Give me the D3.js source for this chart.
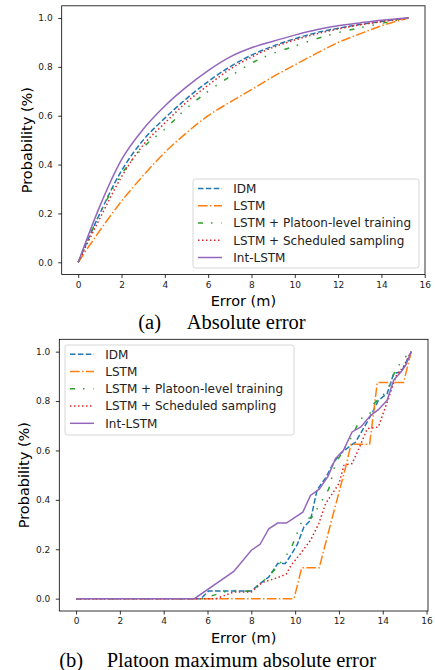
<!DOCTYPE html>
<html>
<head>
<meta charset="utf-8">
<script src="https://cdn.jsdelivr.net/npm/d3@7"></script>
<style>
  body { margin: 0; background: #fff; }
  svg { display: block; }
</style>
</head>
<body>
<div id="chart"></div>
<script>
// series names and tick labels
const seriesNames = ['IDM', 'LSTM', 'LSTM + Platoon-level training', 'LSTM + Scheduled sampling', 'Int-LSTM'];
const xTicks = [0, 2, 4, 6, 8, 10, 12, 14, 16];
const yTicks = [0, 0.2, 0.4, 0.6, 0.8, 1.0];

// (a) absolute error CDF
const absX = [0, 1, 2, 3, 4, 5, 6, 7, 8, 9, 10, 11, 12, 13, 14, 15.25];
const absIDM = [0, 0.2, 0.375, 0.5, 0.59, 0.67, 0.74, 0.8, 0.848, 0.885, 0.915, 0.94, 0.958, 0.973, 0.986, 1];
const absLSTM = [0, 0.13, 0.25, 0.355, 0.45, 0.53, 0.6, 0.655, 0.707, 0.76, 0.808, 0.855, 0.9, 0.935, 0.968, 1];
const absPlatoon = [0, 0.2, 0.36, 0.47, 0.545, 0.63, 0.7, 0.76, 0.815, 0.855, 0.885, 0.915, 0.94, 0.96, 0.978, 1];
const absSched = [0, 0.18, 0.35, 0.48, 0.57, 0.655, 0.725, 0.79, 0.84, 0.88, 0.91, 0.935, 0.955, 0.972, 0.985, 1];
const absInt = [0, 0.23, 0.42, 0.545, 0.64, 0.718, 0.785, 0.84, 0.878, 0.905, 0.93, 0.952, 0.968, 0.98, 0.991, 1];

// (b) platoon maximum absolute error CDF
const maxIDMX = [0, 5.7, 6.05, 8.0, 8.4, 8.8, 9.2, 9.55, 9.8, 10.1, 10.4, 10.7, 11.0, 11.4, 11.77, 12.07, 12.45, 12.76, 13.06, 13.5, 13.8, 14.2, 14.5, 14.85, 15.3];
const maxIDMY = [0, 0, 0.031, 0.031, 0.061, 0.088, 0.142, 0.142, 0.175, 0.22, 0.29, 0.317, 0.44, 0.49, 0.553, 0.587, 0.614, 0.634, 0.68, 0.749, 0.803, 0.83, 0.912, 0.918, 1];
const maxLSTMX = [0, 9.95, 10.3, 11.1, 11.7, 12.3, 12.55, 13.4, 13.75, 14.95, 15.3];
const maxLSTMY = [0, 0, 0.125, 0.125, 0.33, 0.53, 0.625, 0.625, 0.875, 0.875, 1];
const maxPlatoonX = [0, 5.8, 6.5, 7.0, 8.0, 8.4, 8.8, 9.2, 9.5, 9.8, 10.32, 10.77, 11.23, 11.54, 11.84, 12.2, 12.6, 12.99, 13.38, 13.6, 14.2, 14.6, 15.1, 15.3];
const maxPlatoonY = [0, 0, 0.02, 0.034, 0.03, 0.061, 0.09, 0.13, 0.165, 0.2, 0.317, 0.33, 0.398, 0.445, 0.547, 0.6, 0.66, 0.729, 0.742, 0.79, 0.84, 0.93, 0.985, 1];
const maxSchedX = [0, 6.4, 7.2, 8.0, 8.5, 9.2, 9.6, 9.8, 10.24, 10.7, 11.08, 11.39, 11.7, 12.0, 12.23, 12.6, 12.91, 13.29, 13.8, 14.3, 14.6, 14.95, 15.3];
const maxSchedY = [0, 0, 0.027, 0.027, 0.065, 0.085, 0.1, 0.133, 0.182, 0.236, 0.304, 0.385, 0.425, 0.466, 0.54, 0.547, 0.607, 0.688, 0.695, 0.82, 0.9, 0.94, 1];
const maxIntX = [0, 5.4, 7.2, 8.0, 8.4, 8.8, 9.2, 9.6, 10.35, 10.7, 11.1, 11.5, 11.84, 12.2, 12.6, 13.0, 13.45, 13.8, 14.2, 14.5, 14.85, 15.05, 15.3];
const maxIntY = [0, 0, 0.11, 0.196, 0.22, 0.283, 0.306, 0.306, 0.35, 0.418, 0.443, 0.495, 0.567, 0.6, 0.675, 0.695, 0.742, 0.765, 0.803, 0.885, 0.92, 0.945, 1];

// line styles (matplotlib tab10)
const styles = [
  { color: '#1f77b4', dash: '5.5,2.4' },
  { color: '#ff7f0e', dash: '9.6,2.4,1.5,2.4' },
  { color: '#2ca02c', dash: '5,8,1.5,9,1.5,9' },
  { color: '#d62728', dash: '1.5,2.5' },
  { color: '#9467bd', dash: null }
];

const svg = d3.select('#chart').append('svg')
  .attr('width', 435)
  .attr('height', 670);

function zip(xs, ys) {
  return xs.map((x, i) => [x, ys[i]]);
}

function drawPanel(cfg) {
  const x = d3.scaleLinear().domain(cfg.xDomain).range([cfg.left, cfg.right]);
  const y = d3.scaleLinear().domain([-0.05, 1.05]).range([cfg.bottom, cfg.top]);
  const g = svg.append('g');

  const line = d3.line()
    .curve(cfg.curve)
    .x(d => x(d[0]))
    .y(d => y(d[1]));

  cfg.series.forEach((s, i) => {
    g.append('path')
      .datum(s)
      .attr('fill', 'none')
      .attr('stroke', styles[i].color)
      .attr('stroke-width', 1.5)
      .attr('stroke-dasharray', styles[i].dash)
      .attr('d', line);
  });

  // axes
  const xAxis = g.append('g')
    .attr('transform', 'translate(0,' + cfg.bottom + ')')
    .call(d3.axisBottom(x).tickValues(xTicks).tickSize(3.5).tickPadding(3.5));
  const yAxis = g.append('g')
    .attr('transform', 'translate(' + cfg.left + ',0)')
    .call(d3.axisLeft(y).tickValues(yTicks).tickFormat(d3.format('.1f')).tickSize(3.5).tickPadding(5.5));
  [xAxis, yAxis].forEach(a => {
    a.select('.domain').remove();
    a.selectAll('line').attr('stroke', '#000').attr('stroke-width', 0.8);
    a.selectAll('text')
      .attr('font-family', 'DejaVu Sans')
      .attr('font-size', 9)
      .attr('fill', '#222');
  });

  g.append('rect')
    .attr('x', cfg.left)
    .attr('y', cfg.top)
    .attr('width', cfg.right - cfg.left)
    .attr('height', cfg.bottom - cfg.top)
    .attr('fill', 'none')
    .attr('stroke', '#000')
    .attr('stroke-width', 0.8);

  // axis labels
  g.append('text')
    .attr('x', (cfg.left + cfg.right) / 2)
    .attr('y', cfg.xLabelY)
    .attr('text-anchor', 'middle')
    .attr('font-family', 'DejaVu Sans')
    .attr('font-size', 14.5)
    .text('Error (m)');
  g.append('text')
    .attr('transform', 'translate(' + cfg.yLabelX + ',' + (cfg.top + cfg.bottom) / 2 + ') rotate(-90)')
    .attr('text-anchor', 'middle')
    .attr('font-family', 'DejaVu Sans')
    .attr('font-size', 14.5)
    .text('Probability (%)');

  // legend
  const lg = cfg.legend;
  g.append('rect')
    .attr('x', lg.x0).attr('y', lg.y0)
    .attr('width', lg.x1 - lg.x0).attr('height', lg.y1 - lg.y0)
    .attr('rx', 2.5)
    .attr('fill', '#fff').attr('fill-opacity', 0.8)
    .attr('stroke', '#ccc').attr('stroke-width', 0.8);
  seriesNames.forEach((name, i) => {
    const yy = lg.row0 + i * lg.step;
    g.append('line')
      .attr('x1', lg.lineX).attr('x2', lg.lineX + 24)
      .attr('y1', yy).attr('y2', yy)
      .attr('stroke', styles[i].color)
      .attr('stroke-width', 1.5)
      .attr('stroke-dasharray', styles[i].dash);
    g.append('text')
      .attr('x', lg.textX).attr('y', yy)
      .attr('dy', '0.36em')
      .attr('font-family', 'DejaVu Sans')
      .attr('font-size', 12)
      .attr('fill', '#222')
      .text(name);
  });

  // caption
  const cap = g.append('text')
    .attr('y', cfg.captionY)
    .attr('font-family', 'Liberation Serif')
    .attr('font-size', 20.5);
  cap.append('tspan').attr('x', cfg.captionX[0]).text(cfg.caption[0]);
  cap.append('tspan').attr('x', cfg.captionX[1]).text(cfg.caption[1]);
}

drawPanel({
  left: 61.7, right: 425, top: 5.8, bottom: 274.5,
  xDomain: [-0.7625, 16.0125],
  curve: d3.curveMonotoneX,
  series: [zip(absX, absIDM), zip(absX, absLSTM), zip(absX, absPlatoon), zip(absX, absSched), zip(absX, absInt)],
  xLabelY: 306, yLabelX: 32.3,
  legend: { x0: 193, x1: 419, y0: 179, y1: 268, row0: 188.5, step: 17.25, lineX: 198, textX: 233.3 },
  caption: ['(a)', 'Absolute error'], captionX: [138.3, 186.7], captionY: 328.5
});

drawPanel({
  left: 59.3, right: 428, top: 339.3, bottom: 611,
  xDomain: [-0.765, 16.065],
  curve: d3.curveLinear,
  series: [zip(maxIDMX, maxIDMY), zip(maxLSTMX, maxLSTMY), zip(maxPlatoonX, maxPlatoonY), zip(maxSchedX, maxSchedY), zip(maxIntX, maxIntY)],
  xLabelY: 642.5, yLabelX: 29.3,
  legend: { x0: 65, x1: 294, y0: 345, y1: 435, row0: 354.3, step: 17.25, lineX: 70, textX: 105.3 },
  caption: ['(b)', 'Platoon maximum absolute error'], captionX: [59.3, 106.7], captionY: 666.5
});
</script>
</body>
</html>
